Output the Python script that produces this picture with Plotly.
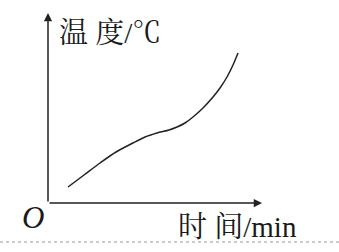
import plotly.graph_objects as go

# data (time offset, temperature) (arbitrary units)
time_vals = [20, 36, 52, 68, 85, 97, 109, 121, 129, 137, 145, 155, 165, 172, 179, 185, 190]
temp_vals = [16, 28, 40, 51, 60, 66, 70, 73, 76, 80, 86, 95, 106, 115, 126, 138, 150]

x_label = "时 间/min"
y_label = "温 度/℃"
origin_label = "O"

X_END = 214
Y_END = 190

fig = go.Figure()
fig.add_trace(go.Scatter(x=time_vals, y=temp_vals, mode="lines",
                         line=dict(color="#222", width=1.5, shape="spline", smoothing=0.8),
                         hoverinfo="skip"))

font = dict(family="Liberation Serif, Noto Serif CJK SC, Noto Sans CJK SC", size=29, color="#1a1a1a")

anns = [
    dict(x=X_END, y=0, ax=0, ay=0, xref="x", yref="y", axref="x", ayref="y", text="",
         showarrow=True, arrowhead=2, arrowsize=1.1, arrowwidth=1.5, arrowcolor="#222", standoff=0),
    dict(x=0, y=Y_END, ax=0, ay=0, xref="x", yref="y", axref="x", ayref="y", text="",
         showarrow=True, arrowhead=2, arrowsize=1.1, arrowwidth=1.5, arrowcolor="#222", standoff=0),
    dict(x=-15, y=-14, xref="x", yref="y", text="<i>" + origin_label + "</i>", showarrow=False,
         font=dict(family="Liberation Serif", size=31, color="#1a1a1a"),
         xanchor="center", yanchor="middle"),
    dict(x=189, y=-24, xref="x", yref="y", text=x_label, showarrow=False, font=font,
         xanchor="center", yanchor="middle"),
    dict(x=62, y=170, xref="x", yref="y", text=y_label, showarrow=False, font=font,
         xanchor="center", yanchor="middle"),
]
fig.update_layout(annotations=anns)

fig.add_shape(type="line", xref="paper", yref="paper", x0=0, x1=1, y0=10/252, y1=10/252,
              line=dict(color="#999", width=1, dash="dot"))

fig.update_layout(
    width=339, height=252, margin=dict(l=0, r=0, t=0, b=0),
    paper_bgcolor="white", plot_bgcolor="white", showlegend=False,
    xaxis=dict(range=[-48, 291], visible=False, fixedrange=True),
    yaxis=dict(range=[-49, 203], visible=False, fixedrange=True),
)

fig.write_html("out.html", config={"displayModeBar": False})
